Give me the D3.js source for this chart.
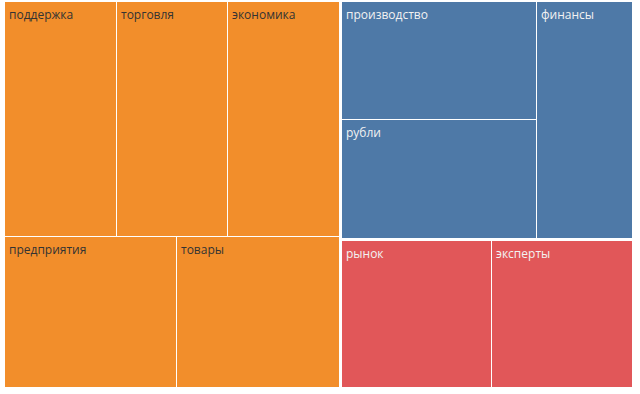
<!DOCTYPE html>
<html lang="ru">
  <head>
    <meta charset="utf-8">
    <title>Treemap</title>
    <style>
    body {margin: 0; background: #fff;}
    text {font-family: "Open Sans", sans-serif; font-size: 12px;}
    </style>
  </head>
  <body>
    <div id='my_dataviz'></div>

    <script src="https://d3js.org/d3.v7.min.js"></script>
    <script>
      // data
      var groups = ["A", "B", "C"];
      var groupColors = ["#f28e2b", "#4e79a7", "#e15759"];
      var labels = ["поддержка", "торговля", "экономика", "предприятия", "товары",
                    "производство", "рубли", "финансы",
                    "рынок", "эксперты"];
      var groupOf = [0, 0, 0, 0, 0, 1, 1, 1, 2, 2];
      var values = [25.75, 25.75, 25.75, 25.5, 24.3, 22.8, 22.8, 22.3, 21.9, 20.6];

      var margin = {top: 2, left: 5},
          width = 627,
          height = 385;

      var svg = d3.select("#my_dataviz")
        .append("svg")
          .attr("width", 640)
          .attr("height", 394)
        .append("g")
          .attr("transform", "translate(" + margin.left + "," + margin.top + ")");

      var tree = {name: "root", children: groups.map(function(g, i) {
        return {name: g, idx: i, children: labels
          .map(function(l, j) { return {name: l, value: values[j], g: groupOf[j]}; })
          .filter(function(d) { return d.g === i; })};
      })};

      var root = d3.hierarchy(tree)
        .sum(function(d) { return d.value; })
        .sort(function(a, b) { return b.value - a.value; });

      d3.treemap()
        .size([width, height])
        .paddingInner(function(d) { return d.depth === 0 ? 3 : 1; })
        .round(true)(root);

      var leaf = svg.selectAll("g.leaf")
        .data(root.leaves())
        .enter().append("g")
          .attr("class", "leaf")
          .attr("transform", function(d) { return "translate(" + d.x0 + "," + d.y0 + ")"; });

      leaf.append("rect")
        .attr("width", function(d) { return d.x1 - d.x0; })
        .attr("height", function(d) { return d.y1 - d.y0; })
        .attr("fill", function(d) { return groupColors[d.data.g]; });

      leaf.append("text")
        .attr("x", 4)
        .attr("y", 17)
        .style("fill", function(d) { return d.data.g === 0 ? "#333" : "#f2f2f2"; })
        .text(function(d) { return d.data.name; });
    </script>
  </body>
</html>
